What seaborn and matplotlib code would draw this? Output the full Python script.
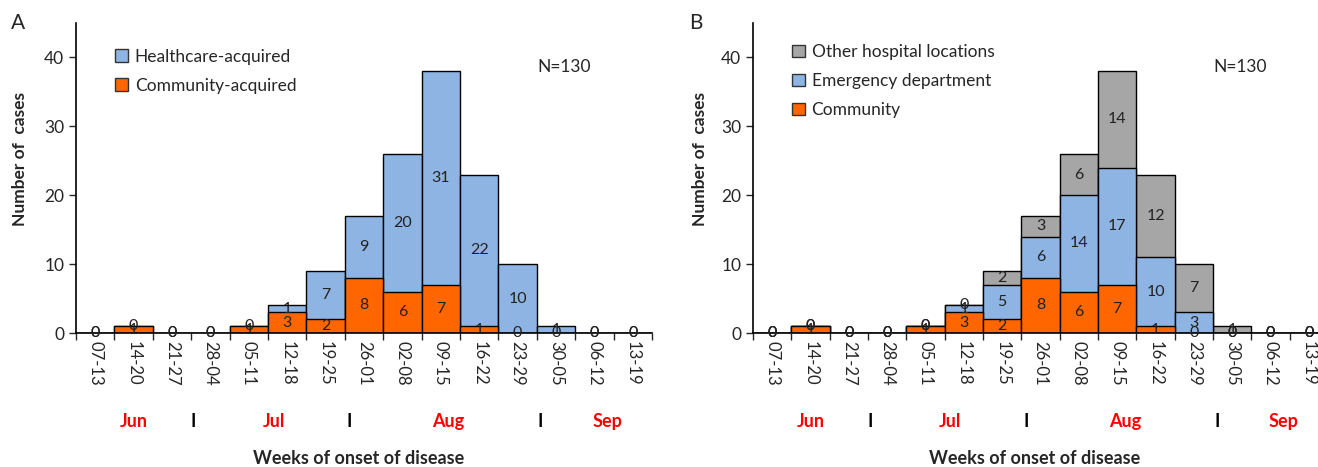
import numpy as np
import pandas as pd
import matplotlib
matplotlib.use("Agg")
import matplotlib.pyplot as plt
from matplotlib.patches import Patch
import seaborn as sns

weeks = ["07-13", "14-20", "21-27", "28-04", "05-11", "12-18", "19-25", "26-01",
         "02-08", "09-15", "16-22", "23-29", "30-05", "06-12", "13-19"]

# panel A
community = [0, 1, 0, 0, 1, 3, 2, 8, 6, 7, 1, 0, 0, 0, 0]
healthcare = [0, 0, 0, 0, 0, 1, 7, 9, 20, 31, 22, 10, 1, 0, 0]

# panel B
emergency = [0, 0, 0, 0, 0, 1, 5, 6, 14, 17, 10, 3, 0, 0, 0]
other_hosp = [0, 0, 0, 0, 0, 0, 2, 3, 6, 14, 12, 7, 1, 0, 0]

months = ["Jun", "Jul", "Aug", "Sep"]
month_pos = [1.0, 4.65, 9.2, 13.35]
sep_pos = [2.55, 6.62, 11.6]

ORANGE = "#FF6600"
BLUE = "#8DB4E2"
GREY = "#A6A6A6"

sns.set_style("ticks")
plt.rcParams["font.family"] = ["Lato", "DejaVu Sans"]

fig = plt.figure(figsize=(13.18, 4.67), dpi=100)
axA = fig.add_axes([0.0577, 0.2869, 0.4370, 0.6638])
axB = fig.add_axes([0.5713, 0.2869, 0.4363, 0.6638])


def stacked(ax, layers, colors):
    # draw cumulative totals from the top down so each layer covers the next
    cum = np.cumsum(np.array(layers), axis=0)
    for i in range(len(layers) - 1, -1, -1):
        df = pd.DataFrame({"week": weeks, "n": cum[i]})
        sns.barplot(data=df, x="week", y="n", color=colors[i], saturation=1,
                    width=1, edgecolor="black", linewidth=1, ax=ax)
    # value labels at the middle of each segment
    for i, layer in enumerate(layers):
        base = cum[i] - np.array(layer)
        for j, v in enumerate(layer):
            ax.text(j, base[j] + v / 2, str(v), ha="center", va="center",
                    fontsize=11.5, color="#222222")


def style(ax, letter, legend_items, leg_anchor, ylab_x):
    ax.set_xlim(-0.5, len(weeks) - 0.5)
    ax.set_ylim(0, 45)
    ax.set_yticks([0, 10, 20, 30, 40])
    ax.tick_params(axis="y", labelsize=12.5, length=5, width=1, direction="out")
    ax.set_xticks(range(len(weeks)))
    ax.set_xticklabels(weeks, rotation=-90, fontsize=12)
    ax.tick_params(axis="x", which="major", length=0, pad=6)
    ax.set_xticks(np.arange(-0.5, len(weeks), 1), minor=True)
    ax.tick_params(axis="x", which="minor", length=5, width=1, direction="out")
    for s in ["top", "right"]:
        ax.spines[s].set_visible(False)
    for s in ["left", "bottom"]:
        ax.spines[s].set_linewidth(1.2)
        ax.spines[s].set_color("black")
    ax.set_xlabel("")
    ax.set_ylabel("Number of  cases", fontsize=12.5, fontweight="bold")
    ax.yaxis.set_label_coords(ylab_x, 0.56)
    ax.text(12.2, 38.6, "N=130", ha="center", va="center", fontsize=12.5)
    ax.text(-0.1, 1.0, letter, transform=ax.transAxes, fontsize=15,
            ha="center", va="center")
    for m, x in zip(months, month_pos):
        ax.text(x, -0.287, m, transform=ax.get_xaxis_transform(), ha="center",
                va="center", color="red", fontsize=13, fontweight="bold")
    for x in sep_pos:
        ax.text(x, -0.287, "I", transform=ax.get_xaxis_transform(), ha="center",
                va="center", color="black", fontsize=13, fontweight="bold")
    ax.text(0.49, -0.405, "Weeks of onset of disease", transform=ax.transAxes,
            ha="center", va="center", fontsize=13, fontweight="bold")
    handles = [Patch(facecolor=c, edgecolor="#333333", linewidth=1, label=l)
               for l, c in legend_items]
    ax.legend(handles=handles, loc="upper left", bbox_to_anchor=leg_anchor,
              frameon=False, fontsize=12.5, handlelength=0.75, handleheight=0.75,
              handletextpad=0.4, labelspacing=0.75, borderaxespad=0)


stacked(axA, [community, healthcare], [ORANGE, BLUE])
style(axA, "A", [("Healthcare-acquired", BLUE), ("Community-acquired", ORANGE)],
      (0.055, 0.94), -0.083)

stacked(axB, [community, emergency, other_hosp], [ORANGE, BLUE, GREY])
style(axB, "B", [("Other hospital locations", GREY), ("Emergency department", BLUE),
                 ("Community", ORANGE)], (0.055, 0.955), -0.078)

fig.savefig("out.png", dpi=100)
